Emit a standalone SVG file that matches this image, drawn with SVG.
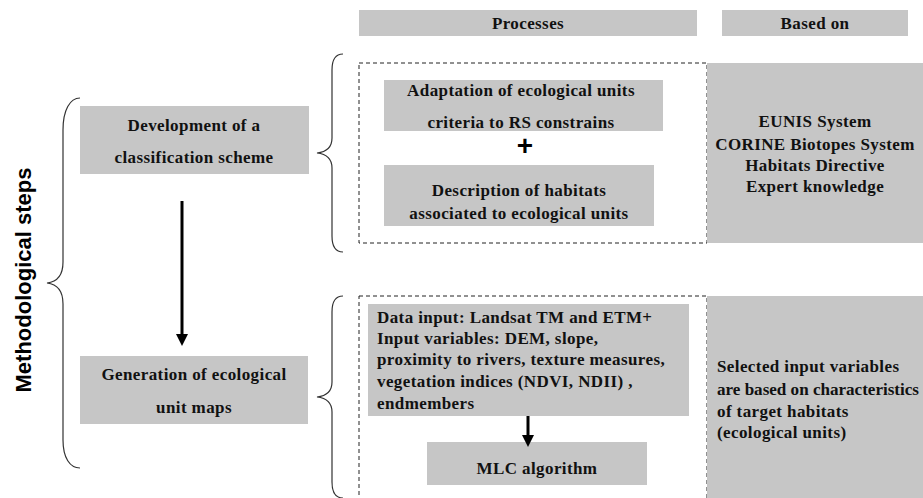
<svg xmlns="http://www.w3.org/2000/svg" width="923" height="498" viewBox="0 0 923 498">
<defs>
<style>
.box{fill:#c6c6c6;}
.dash{fill:none;stroke:#222;stroke-width:1;stroke-dasharray:4,3;}
.brace{fill:none;stroke:#333;stroke-width:1.2;}
.t{font-family:'Liberation Serif','Times New Roman',serif;font-size:17px;font-weight:bold;letter-spacing:0.4px;fill:#111;}
.c{text-anchor:middle;}
.arr{stroke:#000;stroke-width:3;fill:none;}
.side{font-family:'Liberation Sans',Arial,sans-serif;font-size:22px;font-weight:bold;fill:#000;}
</style>
<marker id="ah" markerWidth="4" markerHeight="4" refX="2" refY="2" orient="auto" markerUnits="strokeWidth">
<path d="M0,0 L4,2 L0,4 Z" fill="#000"/>
</marker>
</defs>
<rect width="923" height="498" fill="#fff"/>

<g id="side-label">
<text class="side c" transform="translate(31,280) rotate(-90)">Methodological steps</text>
</g>

<g id="hdr-processes">
<rect class="box" x="359" y="10" width="338" height="26"/>
<text class="t c" x="528" y="29">Processes</text>
</g>
<g id="hdr-based">
<rect class="box" x="722" y="10" width="186" height="26"/>
<text class="t c" x="815" y="29">Based on</text>
</g>

<g id="braces">
<path class="brace" d="M80 98 C70 98 63 110 63 130 L63 262 C63 276 56 282 47 283 C56 284 63 290 63 304 L63 440 C63 458 70 468 80 468"/>
<path class="brace" d="M343 54 C336 54 332 58 332 70 L332 138 C332 148 326 152 317 153 C326 154 332 158 332 168 L332 236 C332 247 336 252 343 252"/>
<path class="brace" d="M343 296 C336 296 332 300 332 312 L332 382 C332 392 326 396 317 397 C326 398 332 402 332 412 L332 482 C332 493 336 498 343 498"/>
</g>

<g id="step1">
<rect class="box" x="80" y="106" width="229" height="68"/>
<text class="t c" x="194" y="131">Development of a</text>
<text class="t c" x="194" y="163">classification scheme</text>
</g>
<g id="step2">
<rect class="box" x="80" y="356" width="228" height="68"/>
<text class="t c" x="194" y="380">Generation of ecological</text>
<text class="t c" x="194" y="413">unit maps</text>
</g>

<g id="proc1">
<rect class="dash" x="359" y="63" width="348" height="180"/>
</g>
<g id="based1">
<rect class="box" x="707" y="63" width="216" height="180"/>
<text class="t c" x="815" y="127">EUNIS System</text>
<text class="t c" x="815" y="150">CORINE Biotopes System</text>
<text class="t c" x="815" y="171">Habitats Directive</text>
<text class="t c" x="815" y="192">Expert knowledge</text>
</g>
<g id="adapt">
<rect class="box" x="384" y="80" width="279" height="51"/>
<text class="t c" x="521" y="96">Adaptation of ecological units</text>
<text class="t c" x="521" y="128">criteria to RS constrains</text>
</g>
<g id="plus">
<text x="525" y="155" text-anchor="middle" style="font-family:'Liberation Sans',Arial,sans-serif;font-size:28px;font-weight:bold;fill:#000">+</text>
</g>
<g id="desc">
<rect class="box" x="384" y="165" width="270" height="61"/>
<text class="t c" x="519" y="196">Description of habitats</text>
<text class="t c" x="519" y="219">associated to ecological units</text>
</g>

<g id="proc2">
<rect class="dash" x="359" y="296" width="348" height="210"/>
</g>
<g id="based2">
<rect class="box" x="707" y="296" width="216" height="210"/>
<text class="t" x="717" y="372">Selected input variables</text>
<text class="t" x="717" y="395" style="letter-spacing:0px" textLength="202" lengthAdjust="spacingAndGlyphs">are based on characteristics</text>
<text class="t" x="717" y="417">of target habitats</text>
<text class="t" x="717" y="438">(ecological units)</text>
</g>
<g id="datain">
<rect class="box" x="368" y="304" width="321" height="112"/>
<text class="t" x="377" y="323">Data input: Landsat TM and ETM+</text>
<text class="t" x="377" y="344">Input variables:  DEM, slope,</text>
<text class="t" x="377" y="365">proximity to rivers, texture measures,</text>
<text class="t" x="377" y="387">vegetation indices (NDVI, NDII) ,</text>
<text class="t" x="377" y="409">endmembers</text>
</g>
<g id="mlc">
<rect class="box" x="427" y="442" width="220" height="43"/>
<text class="t c" x="537" y="474">MLC algorithm</text>
</g>

<g id="connectors">
<line class="arr" x1="182" y1="201" x2="182" y2="340" marker-end="url(#ah)"/>
<line class="arr" x1="528" y1="416" x2="528" y2="441" marker-end="url(#ah)"/>
</g>
</svg>
